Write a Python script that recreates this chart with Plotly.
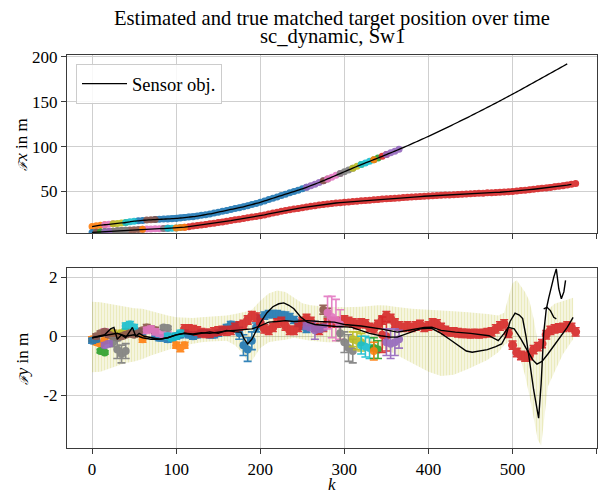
import plotly.graph_objects as go

# ---------------- data ----------------
# top panel: x-position of the two targets (sensor objects), k grid step 5
kA = list(range(0, 570, 5))
xA = [11.0, 11.8, 12.5, 13.0, 13.5, 14.0, 14.5, 15.0, 15.5, 16.3,
      17.0, 17.4, 17.8, 18.2, 18.5, 18.8, 19.0, 19.3, 19.5, 19.8,
      20.0, 20.5, 21.0, 21.5, 22.0, 22.7, 23.5, 24.2, 25.0, 26.0,
      27.0, 28.0, 29.0, 30.0, 31.0, 32.0, 33.0, 34.2, 35.5, 36.7,
      38.0, 39.5, 41.0, 42.5, 44.0, 45.5, 47.0, 48.5, 50.0, 51.5,
      53.0, 54.7, 56.5, 58.2, 60.0, 62.0, 64.0, 66.0, 68.0, 70.0,
      72.0, 74.0, 76.0, 78.0, 80.0, 81.8, 83.6, 85.4, 87.3, 89.2,
      91.1, 93.0, 94.9, 96.9, 98.9, 100.9, 103.0, 105.1, 107.2, 109.3,
      111.4, 113.6, 115.8, 118.0, 120.2, 122.5, 124.8, 127.1, 129.4, 131.7,
      134.0, 136.4, 138.8, 141.2, 143.6, 146.0, 148.4, 150.9, 153.4, 155.9,
      158.4, 160.9, 163.4, 166.0, 168.6, 171.2, 173.8, 176.4, 179.0, 181.6,
      184.2, 186.8, 189.4, 192.0]
kB = list(range(0, 580, 5))
xB = [4.5, 4.8, 5.0, 5.3, 5.5, 5.9, 6.3, 6.6, 7.0, 7.3,
      7.5, 7.8, 8.0, 8.2, 8.3, 8.5, 8.6, 8.8, 9.0, 9.2,
      9.5, 9.9, 10.3, 10.9, 11.5, 12.1, 12.8, 13.4, 14.0, 14.7,
      15.5, 16.2, 17.0, 17.7, 18.5, 19.2, 20.0, 20.7, 21.5, 22.2,
      23.0, 24.0, 25.0, 26.0, 27.0, 28.0, 29.0, 29.8, 30.5, 31.2,
      32.0, 32.7, 33.5, 34.2, 35.0, 35.6, 36.2, 36.7, 37.2, 37.6,
      38.0, 38.4, 38.8, 39.2, 39.6, 40.0, 40.4, 40.8, 41.2, 41.6,
      42.0, 42.3, 42.6, 42.9, 43.2, 43.5, 43.8, 44.1, 44.4, 44.7,
      45.0, 45.2, 45.5, 45.7, 46.0, 46.2, 46.5, 46.7, 47.0, 47.2,
      47.5, 47.7, 48.0, 48.2, 48.5, 48.7, 49.0, 49.2, 49.5, 49.7,
      50.0, 50.5, 51.0, 51.5, 52.0, 52.5, 53.0, 53.5, 54.0, 54.6,
      55.2, 55.8, 56.5, 57.2, 58.0, 58.8]

# bottom panel: y-position of sensor objects
L1_k = [0, 8, 15, 22, 26, 30, 35, 40, 45, 48, 52, 56, 62, 70, 80, 90, 100, 110, 120, 130,
        140, 150, 160, 170, 177, 181, 185, 190, 195, 200, 208, 215, 222, 228, 234, 240, 248, 256, 265, 276,
        290, 308, 320, 330, 343, 355, 363, 375, 390, 403, 415, 425, 435, 445, 452, 460, 470, 480, 487, 492,
        497, 503, 508, 512, 516, 520, 525, 531, 534, 537, 540, 543, 546, 549, 552, 555, 558, 561, 563]
L1_y = [-0.05, 0.0, 0.05, 0.25, 0.3, -0.1, 0.05, -0.05, 0.2, 0.3, 0.0, 0.1, 0.0, -0.05, -0.1, -0.05, 0.05, 0.1, 0.05, 0.1,
        0.15, 0.1, 0.2, 0.15, 0.14, -0.1, -0.26, -0.1, 0.2, 0.45, 0.8, 1.0, 1.1, 1.13, 1.05, 0.93, 0.65, 0.48, 0.4, 0.36,
        0.33, 0.31, 0.2, 0.1, 0.02, -0.03, -0.03, 0.1, 0.25, 0.28, 0.1, -0.1, -0.3, -0.5, -0.54, -0.5, -0.45, -0.35, -0.26, 0.0,
        0.5, 0.78, 0.72, 0.6, 0.0, -0.8, -1.8, -2.77, -1.6, 0.1, 0.9, 1.3, 1.7, 2.0, 2.28, 1.6, 1.27, 1.5, 1.89]
L2_k = [0, 10, 20, 30, 40, 50, 60, 70, 80, 90, 100, 110, 120, 130, 140, 150, 160, 170, 180, 190,
        200, 210, 220, 230, 240, 256, 270, 288, 300, 320, 343, 363, 380, 395, 404, 415, 432, 450, 472, 483,
        490, 495, 502, 510, 518, 524, 529, 535, 542, 550, 558, 565, 572]
L2_y = [-0.05, 0.0, 0.05, 0.1, 0.0, 0.05, -0.05, -0.1, -0.1, -0.05, 0.05, 0.1, 0.08, 0.12, 0.1, 0.15, 0.18, 0.2, 0.22, 0.25,
        0.35, 0.48, 0.5, 0.53, 0.5, 0.53, 0.5, 0.48, 0.4, 0.35, 0.25, 0.14, 0.22, 0.3, 0.31, 0.2, 0.14, 0.1, 0.02, -0.15,
        0.1, 0.3, 0.25, -0.1, -0.5, -0.8, -0.94, -0.85, -0.6, -0.3, 0.0, 0.3, 0.64]
L3_k = [537, 541, 545, 549, 552]
L3_y = [0.93, 0.98, 0.87, 0.64, 0.59]

# bottom panel: uncertainty band
band_k = [0, 10, 20, 30, 40, 50, 60, 70, 80, 90, 100, 110, 120, 130, 140, 150, 160, 170, 180, 185,
          190, 200, 210, 220, 230, 240, 250, 260, 280, 300, 320, 340, 350, 360, 380, 400, 415, 430, 447, 460,
          470, 483, 490, 495, 500, 505, 510, 515, 520, 525, 530, 534, 538, 542, 550, 560, 572]
band_lo = [-1.22, -1.2, -1.1, -1.0, -0.9, -0.85, -0.77, -0.65, -0.55, -0.45, -0.37, -0.3, -0.25, -0.2, -0.18, -0.16, -0.15, -0.3, -0.6, -0.85,
           -0.83, -0.4, -0.2, -0.15, -0.12, -0.05, -0.1, -0.15, -0.2, -0.2, -0.25, -0.35, -0.45, -0.6, -0.9, -1.2, -1.34, -1.3, -1.11, -0.95,
           -0.8, -0.54, -0.3, -0.2, -0.2, -0.3, -0.8, -1.34, -2.0, -2.7, -3.5, -3.7, -2.6, -1.7, -1.2, -0.6, -0.1]
band_hi = [1.17, 1.15, 1.1, 1.05, 1.0, 0.95, 0.93, 0.85, 0.78, 0.7, 0.64, 0.62, 0.62, 0.64, 0.66, 0.68, 0.7, 0.75, 0.8, 0.85,
           0.9, 1.2, 1.45, 1.55, 1.5, 1.3, 1.12, 1.05, 1.0, 0.98, 1.0, 1.05, 1.04, 1.0, 0.93, 0.9, 0.88, 0.85, 0.81, 0.78,
           0.75, 0.7, 0.8, 1.3, 1.8, 1.9, 1.7, 1.49, 1.2, 0.6, -0.2, -0.4, 0.2, 0.9, 1.1, 1.2, 1.3]

# main estimated tracks
blue_k = [55, 60, 75, 80, 85, 90, 95, 100, 105, 110, 115, 120, 125, 130, 135, 140, 145, 150, 155, 160,
          165, 170, 175, 180, 185, 190, 195, 200, 205, 210, 215, 220, 225, 230, 235, 240, 245, 250, 255]
blue_y = [0.15, 0.1, 0.0, -0.05, -0.05, -0.1, -0.05, 0.0, 0.05, 0.1, 0.05, 0.0, 0.05, 0.1, 0.1, 0.05, 0.05, 0.1, 0.2, 0.3,
          0.4, 0.35, 0.1, -0.3, -0.45, -0.15, 0.3, 0.6, 0.7, 0.75, 0.75, 0.75, 0.72, 0.7, 0.65, 0.55, 0.45, 0.35, 0.25]
blue_err = [0.1, 0.1, 0.1, 0.1, 0.1, 0.1, 0.1, 0.1, 0.1, 0.1, 0.1, 0.1, 0.1, 0.1, 0.1, 0.1, 0.1, 0.1, 0.1, 0.1,
            0.1, 0.12, 0.2, 0.35, 0.4, 0.3, 0.15, 0.12, 0.12, 0.12, 0.12, 0.12, 0.12, 0.12, 0.12, 0.12, 0.12, 0.12, 0.12]
red_k = list(range(110, 580, 5))
red_y = [0.25, 0.25, 0.22, 0.18, 0.12, 0.1, 0.1, 0.15, 0.18, 0.2,
         0.18, 0.2, 0.3, 0.35, 0.4, 0.55, 0.7, 0.65, 0.45, 0.25,
         0.2, 0.3, 0.45, 0.5, 0.35, 0.2, 0.2, 0.3, 0.5, 0.6,
         0.5, 0.3, 0.2, 0.3, 0.45, 0.5, 0.45, 0.5, 0.55, 0.5,
         0.45, 0.4, 0.45, 0.42, 0.3, 0.25, 0.4, 0.55, 0.7, 0.6,
         0.45, 0.35, 0.3, 0.35, 0.3, 0.35, 0.4, 0.3, 0.35, 0.45,
         0.42, 0.3, 0.2, 0.15, 0.15, 0.12, 0.1, 0.1, 0.08, 0.1,
         0.08, 0.1, 0.12, 0.15, 0.25, 0.35, 0.42, 0.1, -0.3, -0.55,
         -0.65, -0.7, -0.65, -0.45, -0.35, -0.25, 0.05, 0.2, 0.25, 0.28,
         0.3, 0.35, 0.3, 0.15]

# short estimated tracks: target curve ('A' upper, 'B' lower), colour, k, y, y-error
small_curve = ['A', 'A', 'A', 'A', 'A', 'B', 'B', 'B', 'B', 'B', 'B', 'B', 'B', 'B', 'B',
               'A', 'A', 'A', 'A', 'A', 'A', 'A', 'A', 'A', 'A']
small_color = ['orange', 'pink', 'olive', 'cyan', 'brown', 'blue', 'brown', 'green', 'gray', 'purple',
               'pink', 'gray', 'cyan', 'orange', 'orange',
               'purple', 'brown', 'pink', 'gray', 'olive', 'cyan', 'green', 'orange', 'red', 'purple']
small_k = [[0, 5, 10, 15], [15, 20, 25], [25, 30, 35, 40], [40, 45, 50], [65, 70, 75],
           [0, 5], [5, 10, 15, 20, 25, 30, 35, 40, 45, 50, 55, 60], [10, 15], [25, 30, 35, 40], [15, 20],
           [65, 70, 75, 80, 85, 90], [85, 90], [90, 95, 100, 105], [100, 105, 110], [60],
           [255, 260, 265, 270, 275], [275, 280], [280, 285, 290, 295], [295, 300, 305, 310], [310, 315, 320],
           [320, 325, 330], [335, 340], [335], [345, 350], [350, 355, 360, 365]]
small_y = [[-0.1, -0.2, -0.25, -0.15], [0.15, 0.1, 0.1], [0.1, 0.05, 0.1, 0.15], [0.35, 0.4, 0.3], [0.3, 0.25, 0.2],
           [-0.15, -0.1], [0.0, 0.1, 0.15, 0.05, 0.0, -0.05, 0.0, 0.05, 0.1, 0.05, 0.1, 0.2], [-0.5, -0.55],
           [-0.2, -0.45, -0.6, -0.5], [-0.3, -0.25],
           [0.2, 0.25, 0.15, 0.1, 0.05, 0.05], [0.3, 0.28], [0.0, -0.05, 0.0, 0.1], [-0.3, -0.4, -0.3], [-0.1],
           [0.35, 0.3, 0.2, 0.25, 0.3], [0.9, 0.8], [0.8, 0.65, 0.55, 0.4], [0.1, -0.2, -0.4, -0.5], [-0.1, -0.15, -0.2],
           [-0.3, -0.35, -0.4], [-0.4, -0.45], [-0.5], [0.05, 0.0], [-0.2, -0.25, -0.2, -0.1]]
small_err = [[0.08, 0.08, 0.08, 0.08], [0.1, 0.1, 0.1], [0.1, 0.1, 0.1, 0.1], [0.1, 0.1, 0.1], [0.1, 0.1, 0.1],
             [0.08, 0.08], [0.08, 0.08, 0.08, 0.08, 0.08, 0.08, 0.08, 0.08, 0.08, 0.08, 0.08, 0.08], [0.06, 0.06],
             [0.15, 0.3, 0.3, 0.25], [0.08, 0.08],
             [0.1, 0.1, 0.1, 0.1, 0.1, 0.1], [0.06, 0.06], [0.1, 0.1, 0.1, 0.1], [0.1, 0.12, 0.1], [0.1],
             [0.1, 0.1, 0.3, 0.1, 0.1], [0.15, 0.15], [0.55, 0.7, 0.7, 0.5], [0.25, 0.35, 0.45, 0.4], [0.25, 0.3, 0.3],
             [0.3, 0.35, 0.35], [0.35, 0.3], [0.3], [0.6, 0.5], [0.45, 0.5, 0.45, 0.3]]

x_ticks = [0, 100, 200, 300, 400, 500, 600]
top_ticks = [50, 100, 150, 200]
bot_ticks = [-2, 0, 2]
bot_ticktext = ['-2', '0', '2']

# ---------------- styling ----------------
FONT = "Liberation Serif"
TAB = dict(blue='#1f77b4', orange='#ff7f0e', green='#2ca02c', red='#d62728', purple='#9467bd',
           brown='#8c564b', pink='#e377c2', gray='#7f7f7f', olive='#bcbd22', cyan='#17becf')

fig = go.Figure()

# uncertainty band (bottom)
fig.add_trace(go.Scatter(x=band_k, y=band_lo, mode='lines', line=dict(width=0, color='rgba(0,0,0,0)'),
                         xaxis='x2', yaxis='y2', showlegend=False, hoverinfo='skip'))
fig.add_trace(go.Scatter(x=band_k, y=band_hi, mode='lines', line=dict(width=0, color='rgba(0,0,0,0)'),
                         fill='tonexty', fillcolor='rgba(188,189,34,0.16)',
                         fillpattern=dict(shape='|', fgcolor='rgba(188,189,34,0.35)',
                                          bgcolor='rgba(188,189,34,0.14)', size=3, solidity=0.35),
                         xaxis='x2', yaxis='y2', showlegend=False, hoverinfo='skip'))


def lookup(curve, ks):
    grid_k, grid_x = (kA, xA) if curve == 'A' else (kB, xB)
    return [grid_x[grid_k.index(k)] for k in ks]


def add_track(curve, color, ks, ys, errs, msize=8):
    col = TAB[color]
    fig.add_trace(go.Scatter(x=ks, y=lookup(curve, ks), mode='lines+markers',
                             line=dict(color=col, width=5), marker=dict(color=col, size=7),
                             opacity=0.9, xaxis='x', yaxis='y', showlegend=False, hoverinfo='skip'))
    fig.add_trace(go.Scatter(x=ks, y=ys, mode='markers', marker=dict(color=col, size=msize),
                             error_y=dict(type='data', array=errs, color=col, thickness=1.6, width=4),
                             opacity=0.9, xaxis='x2', yaxis='y2', showlegend=False, hoverinfo='skip'))


add_track('A', 'blue', blue_k, blue_y, blue_err)
add_track('B', 'red', red_k, red_y, [0.14] * len(red_k), msize=9)
for c, col, ks, ys, es in zip(small_curve, small_color, small_k, small_y, small_err):
    add_track(c, col, ks, ys, es)

# sensor objects (black)
fig.add_trace(go.Scatter(x=kA, y=xA, mode='lines', line=dict(color='black', width=1.3, shape='spline', smoothing=0.6),
                         name='Sensor obj.', xaxis='x', yaxis='y', showlegend=True))
fig.add_trace(go.Scatter(x=kB[:-1], y=xB[:-1], mode='lines', line=dict(color='black', width=1.3),
                         xaxis='x', yaxis='y', showlegend=False))
for ks, ys in [(L1_k, L1_y), (L2_k, L2_y), (L3_k, L3_y)]:
    fig.add_trace(go.Scatter(x=ks, y=ys, mode='lines', line=dict(color='black', width=1.4),
                             xaxis='x2', yaxis='y2', showlegend=False))

tickfont = dict(family=FONT, size=17, color='black')
axis_common = dict(showline=True, mirror=True, linecolor='#3a3a3a', linewidth=1.2,
                   showgrid=True, gridcolor='#cfcfcf', gridwidth=1, zeroline=False,
                   ticks='outside', ticklen=5, tickcolor='#3a3a3a')

FSMALL = "<span style='font-size:12px'>ℱ</span>"

# The page body has an 8px margin, so the figure is sized/offset to land at the reference's pixels.
fig.update_layout(
    width=601, height=485,
    margin=dict(l=59, r=12, t=47, b=45),
    paper_bgcolor='white', plot_bgcolor='white',
    font=dict(family=FONT, color='black', size=17),
    xaxis=dict(domain=[0, 1], anchor='y', range=[-29.8, 600.4], tickvals=x_ticks,
               showticklabels=False, tickfont=tickfont, **axis_common),
    yaxis=dict(domain=[0.547, 1], anchor='x', range=[3.8, 201.9], tickvals=top_ticks,
               tickfont=tickfont, **axis_common),
    xaxis2=dict(domain=[0, 1], anchor='y2', range=[-29.8, 600.4], tickvals=x_ticks, matches='x',
                tickfont=tickfont, **axis_common),
    yaxis2=dict(domain=[0, 0.458], anchor='x2', range=[-3.78, 2.31], tickvals=bot_ticks,
                ticktext=bot_ticktext, tickfont=tickfont, **axis_common),
    legend=dict(x=0.017, y=0.977, xanchor='left', yanchor='top', bgcolor='rgba(255,255,255,0.85)',
                bordercolor='#cccccc', borderwidth=1, itemwidth=45,
                font=dict(family=FONT, size=18.5, color='black')),
    annotations=[
        dict(text='Estimated and true matched target position over time', xref='paper', yref='paper',
             x=0.5, y=1.094, xanchor='center', yanchor='middle', showarrow=False,
             font=dict(family=FONT, size=20.6, color='black')),
        dict(text='sc_dynamic, Sw1', xref='paper', yref='paper',
             x=0.5, y=1.046, xanchor='center', yanchor='middle', showarrow=False,
             font=dict(family=FONT, size=20.6, color='black')),
        dict(text='<i>' + FSMALL + 'x</i> in m', xref='paper', yref='paper', x=-0.085, y=0.774,
             xanchor='center', yanchor='middle', textangle=-90, showarrow=False,
             font=dict(family=FONT, size=17, color='black')),
        dict(text='<i>' + FSMALL + 'y</i> in m', xref='paper', yref='paper', x=-0.085, y=0.228,
             xanchor='center', yanchor='middle', textangle=-90, showarrow=False,
             font=dict(family=FONT, size=17, color='black')),
        dict(text='<i>k</i>', xref='paper', yref='paper', x=0.5, y=-0.094,
             xanchor='center', yanchor='middle', showarrow=False,
             font=dict(family=FONT, size=17, color='black')),
    ],
)

fig.write_html("out.html")
